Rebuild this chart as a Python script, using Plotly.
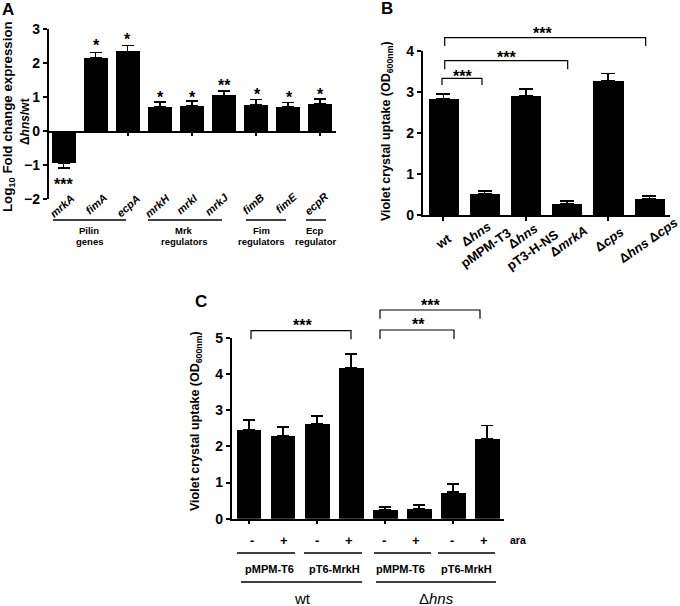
import plotly.graph_objects as go

W, H = 680, 606
FONT = "Liberation Sans"

# panel A
genes = ["mrkA", "fimA", "ecpA", "mrkH", "mrkI", "mrkJ", "fimB", "fimE", "ecpR"]
gene_vals = [-0.95, 2.15, 2.35, 0.72, 0.75, 1.05, 0.77, 0.72, 0.80]
gene_errs = [0.13, 0.17, 0.17, 0.14, 0.15, 0.13, 0.16, 0.13, 0.15]
gene_stars = ["***", "*", "*", "*", "*", "**", "*", "*", "*"]
gene_ticks = [-2, -1, 0, 1, 2, 3]

# panel B
strains = ["wt", "Δ<i>hns</i><br>pMPM-T3", "Δ<i>hns</i><br>pT3-H-NS", "Δ<i>mrkA</i>", "Δ<i>cps</i>", "Δ<i>hns</i> Δ<i>cps</i>"]
strain_vals = [2.84, 0.52, 2.90, 0.28, 3.26, 0.40]
strain_errs = [0.11, 0.07, 0.17, 0.07, 0.19, 0.07]
strain_ticks = [0, 1, 2, 3, 4]

# panel C
ara = ["-", "+", "-", "+", "-", "+", "-", "+"]
ara_vals = [2.45, 2.30, 2.62, 4.17, 0.25, 0.28, 0.73, 2.22]
ara_errs = [0.28, 0.23, 0.21, 0.38, 0.08, 0.10, 0.23, 0.36]
ara_ticks = [0, 1, 2, 3, 4, 5]


def px(x):
    return x / W


def py(y):
    return 1 - y / H


def text(x, y, s, size=10, angle=0, bold=True):
    label = f"<b>{s}</b>" if bold else s
    fig.add_annotation(x=px(x), y=py(y), xref="paper", yref="paper", text=label, showarrow=False,
                       textangle=angle, font=dict(family=FONT, size=size, color="black"),
                       xanchor="center", yanchor="middle")


def stars(x, y, s, size=16):
    # the asterisk sits high in its line box
    text(x, y + size * 0.2, s, size)


def line(x0, x1, y, width=1.5):
    fig.add_shape(type="line", xref="paper", yref="paper", x0=px(x0), x1=px(x1), y0=py(y), y1=py(y),
                  line=dict(color="black", width=width))


def bracket(x0, x1, y_top, y_left, y_right):
    path = f"M {px(x0)} {py(y_left)} L {px(x0)} {py(y_top)} L {px(x1)} {py(y_top)} L {px(x1)} {py(y_right)}"
    fig.add_shape(type="path", xref="paper", yref="paper", path=path, line=dict(color="black", width=1.2))


def bars(vals, errs, xname, yname, bar_w, cap):
    plus = [0 if v < 0 else e for v, e in zip(vals, errs)]
    minus = [e if v < 0 else 0 for v, e in zip(vals, errs)]
    fig.add_trace(go.Bar(x=list(range(len(vals))), y=vals, xaxis=xname, yaxis=yname, width=bar_w,
                         marker=dict(color="black", line=dict(width=0)),
                         error_y=dict(type="data", symmetric=False, array=plus, arrayminus=minus,
                                      color="black", thickness=1.6, width=cap)))


fig = go.Figure()
bars(gene_vals, gene_errs, "x", "y", 0.75, 6)
bars(strain_vals, strain_errs, "x2", "y2", 0.73, 7)
bars(ara_vals, ara_errs, "x3", "y3", 0.73, 6)

xcommon = dict(showgrid=False, zeroline=False, showline=True, linecolor="black", linewidth=1.5,
               ticks="outside", ticklen=4, tickwidth=1.5, tickcolor="black", showticklabels=False)
ycommon = dict(showgrid=False, zeroline=False, showline=True, linecolor="black", linewidth=1.5,
               ticks="outside", ticklen=4, tickwidth=1.5, tickcolor="black",
               tickfont=dict(family=FONT, size=14, color="black", weight=700))

fig.update_layout(
    width=W, height=H, margin=dict(l=0, r=0, t=0, b=0, autoexpand=False), paper_bgcolor="white", plot_bgcolor="white",
    showlegend=False, bargap=0,
    xaxis=dict(xcommon, domain=[px(48.5), px(336)], range=[-0.47, 8.5], anchor="free", position=py(131.7)),
    yaxis=dict(ycommon, domain=[py(199.3), py(29.3)], range=[-2, 3], tickvals=gene_ticks, anchor="x"),
    xaxis2=dict(xcommon, domain=[px(422.7), px(670)], range=[-0.5, 5.5], anchor="y2"),
    yaxis2=dict(ycommon, domain=[py(215.3), py(50.7)], range=[0, 4], tickvals=strain_ticks, anchor="x2"),
    xaxis3=dict(xcommon, domain=[px(231.7), px(504)], range=[-0.5, 7.5], anchor="y3"),
    yaxis3=dict(ycommon, domain=[py(518.7), py(337.7)], range=[0, 5], tickvals=ara_ticks, anchor="x3"),
)

# panel letters
text(8, 9, "A", 17)
text(387, 8, "B", 17)
text(201, 302, "C", 17)

# panel A labels
gene_x = [62, 96, 128, 157, 187, 217, 253, 286, 316]
gene_y = [206, 204, 206, 206, 204, 204, 204, 203, 204]
star_x = [63, 96, 127, 160, 192, 224, 257, 289, 320]
star_y = [181, 42, 36, 94, 94, 82, 91, 94, 91]
for g, gx, gy, st, sx, sy in zip(genes, gene_x, gene_y, gene_stars, star_x, star_y):
    text(gx, gy, f"<i>{g}</i>", 11, -42)
    stars(sx, sy, st)
text(9, 117, "Log<sub>10</sub> Fold change expression", 13.3, -90)
text(25, 122, "Δ<i>hns</i>/wt", 12, -90)
for x0, x1 in [(53, 126), (148, 222), (246, 286), (306, 326)]:
    line(x0, x1, 220)
for cx, top, bottom in [(89, "Pilin", "genes"), (184, "Mrk", "regulators"), (261, "Fim", "regulators"), (315, "Ecp", "regulator")]:
    text(cx, 230, top, 9.5)
    text(cx, 241, bottom, 9.5)

# panel B labels
strain_x = [443, 481, 528, 568, 609, 648]
strain_y = [241, 241, 243, 241, 239, 240]
for s, sx, sy in zip(strains, strain_x, strain_y):
    text(sx, sy, s, 13, -35)
text(387, 131, "Violet crystal uptake (OD<sub>600nm</sub>)", 12.5, -90)
bracket(444.7, 645.7, 37.7, 46, 46)
bracket(444.7, 567.7, 60.7, 69.3, 69.3)
bracket(442, 482, 78.3, 85, 85)
stars(542, 30, "***")
stars(506, 54, "***")
stars(462, 73, "***")

# panel C labels
ara_x = [252, 284, 317, 349, 384, 416, 452, 484]
for a, ax_ in zip(ara, ara_x):
    text(ax_, 540, a, 13)
text(518, 540, "ara", 10.5)
text(196, 421, "Violet crystal uptake (OD<sub>600nm</sub>)", 12.5, -90)
for x0, x1 in [(237, 295), (304, 362), (374, 431), (438, 495)]:
    line(x0, x1, 553)
for cx, s in [(269, "pMPM-T6"), (334, "pT6-MrkH"), (400, "pMPM-T6"), (466, "pT6-MrkH")]:
    text(cx, 569, s, 11)
line(241, 362, 582)
line(376, 496, 582)
text(302, 598, "wt", 15, bold=False)
text(436, 598, "Δ<i>hns</i>", 15, bold=False)
bracket(251, 351, 330.7, 339.3, 339.3)
bracket(380, 454, 330, 339, 339)
bracket(380, 480, 310, 318.7, 318.7)
stars(302, 322, "***")
stars(418, 321, "**")
stars(430, 302, "***")

fig.write_html("out.html", config=dict(displayModeBar=False), post_script="document.body.style.margin='0';")
